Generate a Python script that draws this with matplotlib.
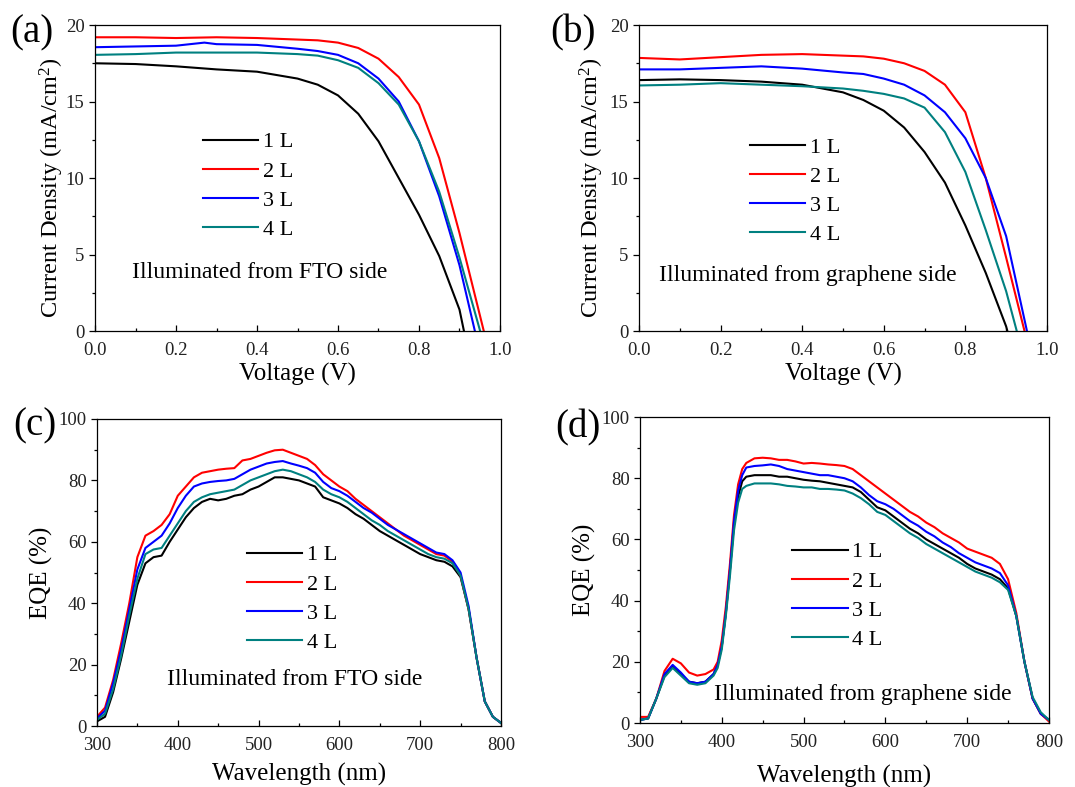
import matplotlib
matplotlib.use('Agg')
import matplotlib.pyplot as plt
from matplotlib.ticker import MultipleLocator

plt.rcParams['font.family'] = ['Liberation Serif', 'DejaVu Serif']
plt.rcParams['mathtext.default'] = 'regular'

labels = ['1 L', '2 L', '3 L', '4 L']
colors = ['black', '#ff0000', '#0000ff', '#008080']

# J-V, illuminated from FTO side (panel a)
v_a = [
    [0, 0.1, 0.2, 0.3, 0.4, 0.5, 0.55, 0.6, 0.65, 0.7, 0.75, 0.8, 0.85, 0.9, 0.911],
    [0, 0.1, 0.2, 0.3, 0.4, 0.5, 0.55, 0.6, 0.65, 0.7, 0.75, 0.8, 0.85, 0.9, 0.93, 0.96],
    [0, 0.1, 0.2, 0.27, 0.3, 0.4, 0.5, 0.55, 0.6, 0.65, 0.7, 0.75, 0.8, 0.85, 0.9, 0.938],
    [0, 0.1, 0.2, 0.3, 0.4, 0.5, 0.55, 0.6, 0.65, 0.7, 0.75, 0.8, 0.85, 0.9, 0.951],
]
j_a = [
    [17.5, 17.45, 17.3, 17.1, 16.95, 16.5, 16.1, 15.4, 14.2, 12.4, 10.0, 7.6, 4.9, 1.4, 0],
    [19.2, 19.2, 19.15, 19.2, 19.15, 19.05, 19.0, 18.85, 18.5, 17.8, 16.6, 14.8, 11.3, 6.4, 3.2, 0],
    [18.55, 18.6, 18.65, 18.85, 18.75, 18.7, 18.45, 18.3, 18.05, 17.5, 16.5, 15.0, 12.4, 8.8, 4.3, 0],
    [18.05, 18.1, 18.2, 18.2, 18.2, 18.1, 18.0, 17.7, 17.2, 16.2, 14.8, 12.4, 9.1, 4.8, 0],
]

# J-V, illuminated from graphene side (panel b)
v_b = [
    [0, 0.1, 0.2, 0.3, 0.4, 0.5, 0.55, 0.6, 0.65, 0.7, 0.75, 0.8, 0.85, 0.9, 0.903],
    [0, 0.1, 0.2, 0.3, 0.4, 0.5, 0.55, 0.6, 0.65, 0.7, 0.75, 0.8, 0.85, 0.9, 0.945],
    [0, 0.1, 0.2, 0.3, 0.4, 0.5, 0.55, 0.6, 0.65, 0.7, 0.75, 0.8, 0.85, 0.9, 0.951],
    [0, 0.1, 0.2, 0.3, 0.4, 0.5, 0.55, 0.6, 0.65, 0.7, 0.75, 0.8, 0.85, 0.9, 0.926],
]
j_b = [
    [16.4, 16.45, 16.4, 16.3, 16.1, 15.6, 15.1, 14.4, 13.3, 11.7, 9.7, 6.9, 3.8, 0.3, 0],
    [17.85, 17.75, 17.9, 18.05, 18.1, 18.0, 17.95, 17.8, 17.5, 17.0, 16.1, 14.3, 10.0, 4.8, 0],
    [17.1, 17.1, 17.2, 17.3, 17.15, 16.9, 16.8, 16.5, 16.1, 15.4, 14.3, 12.6, 10.0, 6.2, 0],
    [16.05, 16.1, 16.2, 16.1, 16.0, 15.85, 15.7, 15.5, 15.2, 14.6, 13.0, 10.4, 6.6, 2.6, 0],
]

# EQE, illuminated from FTO side (panel c)
wl_c = list(range(300, 801, 10))
eqe_c = [
    [1.5, 3, 11, 22, 34, 46, 53, 55, 55.5,
     60, 64, 68, 71, 73, 74, 73.5, 74, 75,
     75.5, 77, 78, 79.5, 81, 81, 80.5, 80, 79,
     78, 74.5, 73.5, 72.5, 71, 69, 67.5, 65.5, 63.5,
     62, 60.5, 59, 57.5, 56, 55, 54, 53.5, 52,
     48.5, 38, 22, 8, 3, 1],
    [3, 6, 15, 27, 40, 55, 62, 63.5, 65.5,
     69, 75, 78, 81, 82.5, 83, 83.5, 83.8, 84,
     86.5, 87, 88, 89, 89.8, 90, 89, 88, 87,
     85, 82, 80, 78, 76.5, 74, 72, 70, 68,
     66, 64, 62, 60.5, 59, 57.5, 56, 55.5, 53.5,
     49, 38, 22, 8, 3, 1],
    [2.5, 5, 14, 25, 38, 51, 58, 60, 62,
     66, 71, 75, 78, 79, 79.5, 79.8, 80, 80.5,
     82, 83.5, 84.5, 85.5, 86, 86.3, 85.5, 84.8, 84,
     82.5, 79.5, 77.5, 76.5, 75, 73, 71, 69.5, 67.5,
     65.5, 64, 62.5, 61, 59.5, 58, 56.5, 56, 54,
     50, 39, 22, 8, 3, 1],
    [2, 4, 12, 23, 36, 48, 56, 57.5, 58,
     62, 66, 70, 73, 74.5, 75.5, 76, 76.5, 77,
     78.5, 80, 81, 82, 83, 83.5, 83, 82, 81,
     79.5, 77, 75.5, 74.5, 73, 71, 69, 67, 65.5,
     63.5, 62, 60.5, 59, 57.5, 56, 55, 54.5, 53,
     49, 38, 22, 8, 3, 1],
]

# EQE, illuminated from graphene side (panel d)
wl_d = [300, 310, 320, 330, 340, 350, 360, 370, 380, 390, 395, 400, 405, 410, 415, 420, 425] + list(range(430, 801, 10))
eqe_d = [
    [1, 1.5, 8, 15.5, 18.5, 16, 13.5, 13, 13.5, 16, 19, 25, 36, 50, 65, 74, 79,
     80.5, 81, 81, 81, 80.5, 80.5, 80, 79.5, 79.2, 79,
     78.5, 78, 77.5, 77, 75.5, 73, 70.5, 69.5, 67.5, 65.5,
     63.5, 62, 60, 58.5, 57, 55.5, 54, 52, 50.5, 49.5,
     48.5, 47, 44, 35, 20, 8, 3, 1],
    [2, 2, 8, 17, 21, 19.5, 16.5, 15.5, 16, 17.5, 20, 27, 38, 52, 68, 78, 83,
     85, 86.5, 86.7, 86.5, 86, 86, 85.5, 84.8, 85, 84.8,
     84.5, 84.3, 84, 83, 81, 79, 77, 75, 73, 71,
     69, 67.5, 65.5, 64, 62, 60.5, 59, 57, 56, 55,
     54, 52, 47, 36, 20, 8, 3, 0.5],
    [1, 1.5, 8, 16, 19, 16.5, 13.5, 13, 13.5, 16, 19, 25, 36, 50, 66, 76, 81,
     83.5, 84, 84.2, 84.5, 84, 83, 82.5, 82, 81.5, 81,
     81, 80.5, 80, 79, 77, 74.5, 72.5, 71.5, 70, 68,
     66, 64.5, 62.5, 61, 59, 57.5, 55.5, 54, 52.5, 51.5,
     50.5, 49, 45, 35, 20, 8, 3, 1],
    [1, 1.5, 8, 15, 18, 15.5, 13, 12.5, 13, 15.5, 18, 24, 35, 48, 63, 72, 76.5,
     77.5, 78.3, 78.3, 78.3, 78, 77.5, 77.3, 77, 77, 76.5,
     76.5, 76.3, 76, 75, 73.5, 71.5, 69, 68, 66, 64,
     62, 60.5, 58.5, 57, 55.5, 54, 52.5, 51, 49.5, 48.5,
     47.5, 46, 43.5, 35, 20, 8.5, 3.5, 1],
]

fig = plt.figure(figsize=(10.75, 7.87), dpi=100)
ax_a = fig.add_axes([0.0884, 0.5794, 0.3767, 0.3888])
ax_b = fig.add_axes([0.5944, 0.5794, 0.3795, 0.3888])
ax_c = fig.add_axes([0.0902, 0.0775, 0.3758, 0.3901])
ax_d = fig.add_axes([0.5953, 0.0813, 0.3805, 0.3888])


def style(ax):
    for s in ax.spines.values():
        s.set_linewidth(0.9)
    ax.tick_params(which='both', top=False, right=False, labelsize=13.5,
                   labelcolor='#222222')
    # x ticks point into the plot, y ticks point out
    ax.tick_params(axis='x', which='both', direction='in', pad=8)
    ax.tick_params(axis='y', which='both', direction='out', pad=3)
    ax.tick_params(which='major', length=4.5, width=0.9)
    ax.tick_params(which='minor', length=2.5, width=0.9)


# panels a and b: J-V
for ax, vs, js in [(ax_a, v_a, j_a), (ax_b, v_b, j_b)]:
    for v, j, c, lab in zip(vs, js, colors, labels):
        ax.plot(v, j, color=c, lw=1.5, label=lab)
    ax.set_xlim(0, 1.0)
    ax.set_ylim(0, 20)
    ax.xaxis.set_major_locator(MultipleLocator(0.2))
    ax.xaxis.set_minor_locator(MultipleLocator(0.1))
    ax.yaxis.set_major_locator(MultipleLocator(5))
    ax.yaxis.set_minor_locator(MultipleLocator(2.5))
    ax.set_xticklabels([f'{t:.1f}' for t in ax.get_xticks()])
    ax.set_xlabel('Voltage (V)', fontsize=18, labelpad=3)
    ax.set_ylabel('Current Density (mA/cm$^2$)', fontsize=17.5)
    style(ax)
ax_a.yaxis.set_label_coords(-0.072, 0.47)
ax_b.yaxis.set_label_coords(-0.08, 0.47)

# panels c and d: EQE
for ax, wl, eq in [(ax_c, wl_c, eqe_c), (ax_d, wl_d, eqe_d)]:
    for e, c, lab in zip(eq, colors, labels):
        ax.plot(wl, e, color=c, lw=1.5, label=lab)
    ax.set_xlim(300, 800)
    ax.set_ylim(0, 100)
    ax.xaxis.set_major_locator(MultipleLocator(100))
    ax.xaxis.set_minor_locator(MultipleLocator(50))
    ax.yaxis.set_major_locator(MultipleLocator(20))
    ax.yaxis.set_minor_locator(MultipleLocator(10))
    ax.set_ylabel('EQE (%)', fontsize=18, labelpad=4)
    style(ax)
ax_c.set_xlabel('Wavelength (nm)', fontsize=18, labelpad=6)
ax_d.set_xlabel('Wavelength (nm)', fontsize=18, labelpad=10)

legend_pos = {ax_a: (0.244, 0.68), ax_b: (0.25, 0.663), ax_c: (0.349, 0.619), ax_d: (0.35, 0.621)}
for ax, (lx, ly) in legend_pos.items():
    ax.legend(loc='upper left', bbox_to_anchor=(lx, ly), frameon=False,
              fontsize=16, handlelength=2.5, handletextpad=0.2,
              labelspacing=0.39, borderaxespad=0)

ax_a.text(0.091, 0.19, 'Illuminated from FTO side', transform=ax_a.transAxes,
          fontsize=17, va='center', ha='left')
ax_b.text(0.049, 0.18, 'Illuminated from graphene side', transform=ax_b.transAxes,
          fontsize=17, va='center', ha='left')
ax_c.text(0.173, 0.15, 'Illuminated from FTO side', transform=ax_c.transAxes,
          fontsize=17, va='center', ha='left')
ax_d.text(0.181, 0.092, 'Illuminated from graphene side', transform=ax_d.transAxes,
          fontsize=17, va='center', ha='left')

fig.text(10 / 1075, 1 - 33 / 787, '(a)', fontsize=28, va='center', ha='left')
fig.text(550 / 1075, 1 - 33 / 787, '(b)', fontsize=28, va='center', ha='left')
fig.text(13 / 1075, 1 - 426 / 787, '(c)', fontsize=28, va='center', ha='left')
fig.text(555 / 1075, 1 - 428 / 787, '(d)', fontsize=28, va='center', ha='left')

fig.savefig('out.png', dpi=100)
